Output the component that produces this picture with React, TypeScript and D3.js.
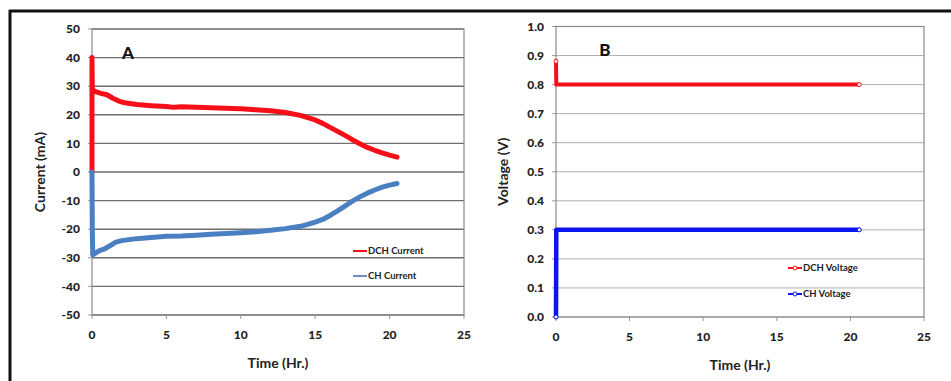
import React from "react";
import * as d3 from "d3";

const W = 951;
const H = 381;

// Panel A data
const dchTime = [0, 0, 0.02, 0.1, 0.3, 0.6, 1.0, 1.4, 1.8, 2.2, 3, 4, 5, 5.5, 6, 7, 8, 9, 10, 11, 12, 13, 14, 14.5, 15, 15.5, 16, 16.5, 17, 17.5, 18, 18.5, 19, 19.5, 20, 20.5];
const dchCurrent = [0, 40, 29, 28.5, 28, 27.5, 27, 25.8, 24.8, 24.2, 23.6, 23.2, 22.9, 22.6, 22.8, 22.6, 22.5, 22.3, 22.1, 21.8, 21.4, 20.8, 19.8, 19, 18.2, 17, 15.6, 14.2, 12.8, 11.3, 9.9, 8.6, 7.6, 6.7, 5.9, 5.2];
const chTime = [0, 0.02, 0.05, 0.2, 0.5, 0.8, 1.2, 1.6, 2, 3, 4, 5, 6, 7, 8, 9, 10, 11, 12, 13, 14, 14.5, 15, 15.5, 16, 16.5, 17, 17.5, 18, 18.5, 19, 19.5, 20, 20.5];
const chCurrent = [0, -20, -29, -28.5, -27.5, -27, -25.8, -24.5, -24, -23.3, -22.9, -22.5, -22.4, -22.1, -21.8, -21.5, -21.2, -20.9, -20.4, -19.8, -19, -18.3, -17.5, -16.6, -15.2, -13.6, -11.9, -10.2, -8.7, -7.4, -6.3, -5.3, -4.6, -4];

// Panel B data
const dchVoltTime = [0, 0.02, 20.6];
const dchVoltage = [0.88, 0.8, 0.8];
const chVoltTime = [0, 0.02, 20.6];
const chVoltage = [0, 0.3, 0.3];

const xTicks = [0, 5, 10, 15, 20, 25];
const currentTicks = [-50, -40, -30, -20, -10, 0, 10, 20, 30, 40, 50];
const voltTicks = [0, 0.1, 0.2, 0.3, 0.4, 0.5, 0.6, 0.7, 0.8, 0.9, 1.0];

const FONT = "Lato, 'Open Sans', sans-serif";
const RED = "#f50f19";
const STEEL = "#4a7fc1";
const BLUE = "#0a14f0";

type Pt = [number, number];
const zip = (a: number[], b: number[]): Pt[] => a.map((v, i) => [v, b[i]]);

function Panel(props: {
  left: number; right: number; top: number; bottom: number;
  yDomain: [number, number]; yTicks: number[]; yFmt: (v: number) => string;
  yTitle: string; yTitleX: number; letter: string; letterX: number;
  gridColor: string; gridWidth: number;
  series: { pts: Pt[]; color: string; width: number; markers: boolean }[];
  legend: { label: string; color: string; marker: boolean }[]; legX: number; legY: number; legGap: number;
}) {
  const x = d3.scaleLinear().domain([0, 25]).range([props.left, props.right]);
  const y = d3.scaleLinear().domain(props.yDomain).range([props.bottom, props.top]);
  const line = d3.line<Pt>().x(d => x(d[0])).y(d => y(d[1]));
  return (
    <g>
      {props.yTicks.map(t => (
        <g key={t}>
          <line x1={props.left} x2={props.right} y1={y(t)} y2={y(t)} stroke={props.gridColor} strokeWidth={props.gridWidth} />
          <line x1={props.left - 4} x2={props.left} y1={y(t)} y2={y(t)} stroke="#999" strokeWidth={1} />
          <text x={props.left - 12} y={y(t)} dy="0.35em" textAnchor="end" fontFamily={FONT} fontWeight="900" fontSize={12} fill="#222">{props.yFmt(t)}</text>
        </g>
      ))}
      {xTicks.map(t => (
        <g key={t}>
          <line x1={x(t)} x2={x(t)} y1={props.bottom} y2={props.bottom + 4} stroke="#999" strokeWidth={1} />
          <text x={x(t)} y={props.bottom + 20} dy="0.35em" textAnchor="middle" fontFamily={FONT} fontWeight="900" fontSize={12} fill="#222">{t}</text>
        </g>
      ))}
      <rect x={props.left} y={props.top} width={props.right - props.left} height={props.bottom - props.top} fill="none" stroke="#8a8a8a" strokeWidth={1.2} />
      {props.series.map((s, i) => (
        <g key={i}>
          <path d={line(s.pts) || ""} fill="none" stroke={s.color} strokeWidth={s.width} strokeLinejoin="round" strokeLinecap="round" />
          {s.markers && [s.pts[0], s.pts[s.pts.length - 1]].map((p, j) => (
            <circle key={j} cx={x(p[0])} cy={y(p[1])} r={2} fill="#fff" stroke={s.color} strokeWidth={1} />
          ))}
        </g>
      ))}
      <text x={props.letterX} y={y(props.yDomain[1]) + 24} dy="0.35em" textAnchor="middle" fontFamily={FONT} fontWeight="900" fontSize={17} fill="#111">{props.letter}</text>
      <text transform={`translate(${props.yTitleX},${(props.top + props.bottom) / 2}) rotate(-90)`} textAnchor="middle" dy="0.35em" fontFamily={FONT} fontWeight="bold" fontSize={14} fill="#222">{props.yTitle}</text>
      <text x={(props.left + props.right) / 2} y={props.bottom + 48} dy="0.35em" textAnchor="middle" fontFamily={FONT} fontWeight="bold" fontSize={14} fill="#222">Time (Hr.)</text>
      {props.legend.map((l, i) => {
        const ly = props.legY + i * props.legGap;
        return (
          <g key={l.label}>
            <line x1={props.legX} x2={props.legX + 14} y1={ly} y2={ly} stroke={l.color} strokeWidth={2} />
            {l.marker && <circle cx={props.legX + 7} cy={ly} r={2} fill="#fff" stroke={l.color} strokeWidth={1} />}
            <text x={props.legX + 15} y={ly} dy="0.35em" fontFamily={FONT} fontWeight="bold" fontSize={9.5} fill="#222">{l.label}</text>
          </g>
        );
      })}
    </g>
  );
}

export default function App() {
  return (
    <svg width={W} height={H} style={{ position: "absolute", left: 0, top: 0, background: "#fff" }}>
      <rect x={0} y={0} width={W} height={H} fill="#fff" />
      <line x1={9} x2={W} y1={11} y2={11} stroke="#111" strokeWidth={3} />
      <line x1={10} x2={10} y1={10} y2={H} stroke="#111" strokeWidth={3} />
      <Panel
        left={92} right={464} top={29} bottom={315}
        yDomain={[-50, 50]} yTicks={currentTicks} yFmt={v => String(v)}
        yTitle="Current (mA)" yTitleX={40} letter="A" letterX={128}
        gridColor="#6f6f6f" gridWidth={1.4}
        series={[
          { pts: zip(dchTime, dchCurrent), color: RED, width: 5, markers: false },
          { pts: zip(chTime, chCurrent), color: STEEL, width: 5, markers: false },
        ]}
        legend={[{ label: "DCH Current", color: RED, marker: false }, { label: "CH Current", color: "#6d8fb8", marker: false }]}
        legX={353} legY={251} legGap={25}
      />
      <Panel
        left={556} right={924} top={26.5} bottom={317}
        yDomain={[0, 1]} yTicks={voltTicks} yFmt={v => v.toFixed(1)}
        yTitle="Voltage (V)" yTitleX={503} letter="B" letterX={605}
        gridColor="#b0b0b0" gridWidth={1}
        series={[
          { pts: zip(dchVoltTime, dchVoltage), color: RED, width: 4, markers: true },
          { pts: zip(chVoltTime, chVoltage), color: BLUE, width: 4.5, markers: true },
        ]}
        legend={[{ label: "DCH Voltage", color: RED, marker: true }, { label: "CH Voltage", color: BLUE, marker: true }]}
        legX={788} legY={268} legGap={26}
      />
    </svg>
  );
}
